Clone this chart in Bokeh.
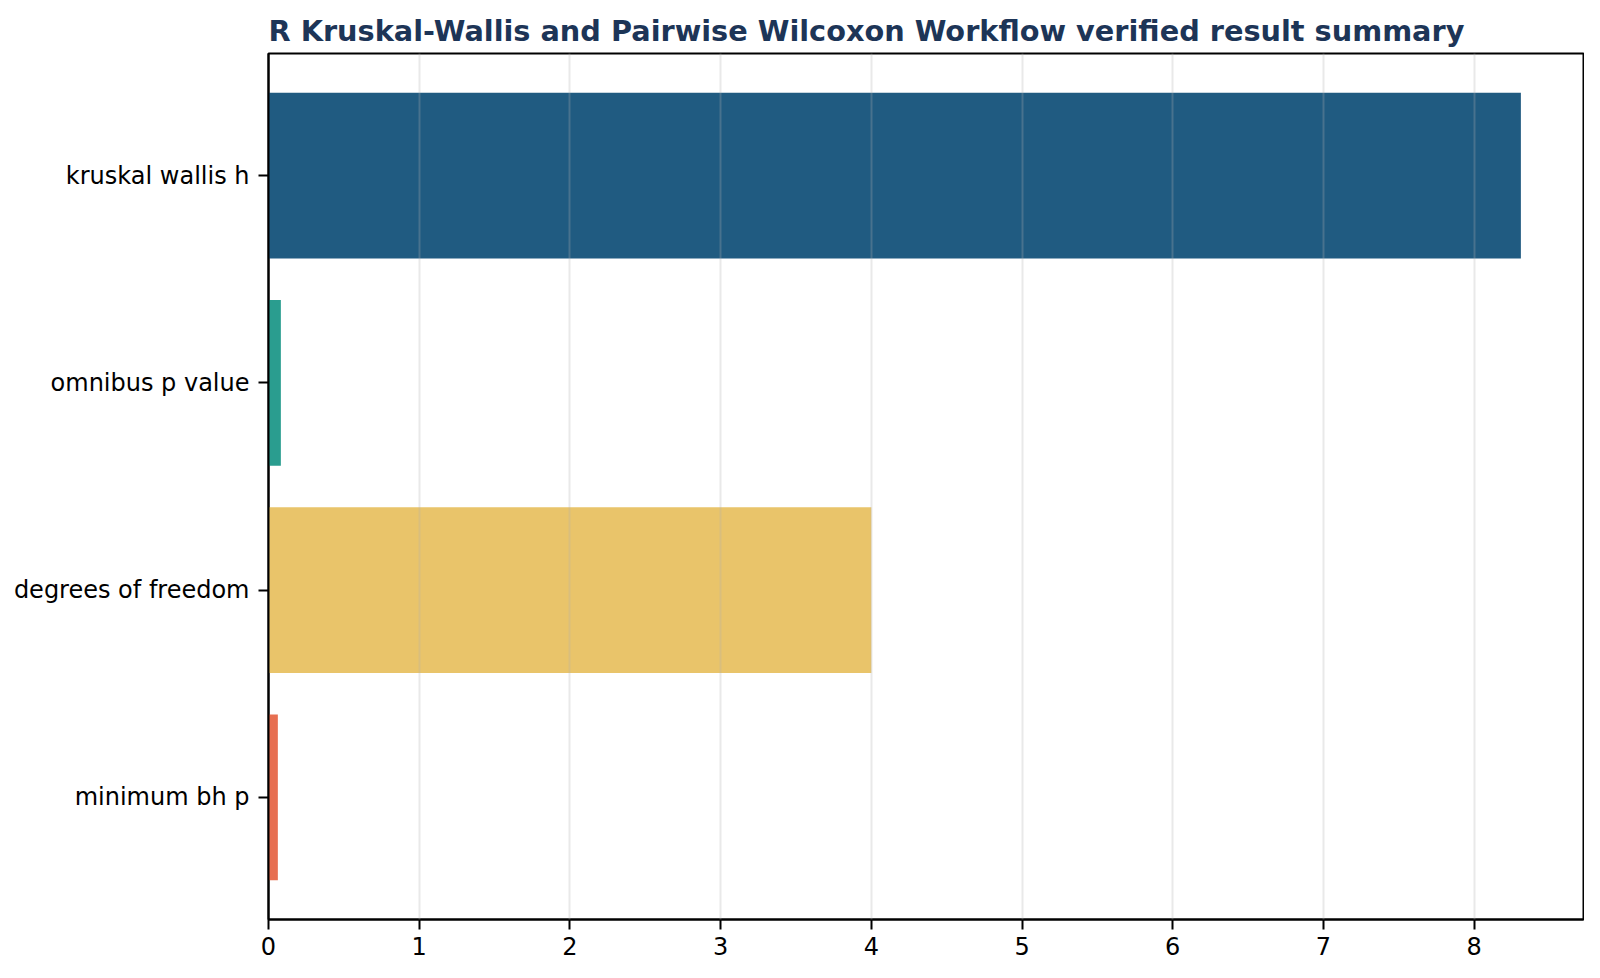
from bokeh.plotting import figure
from bokeh.models import Range1d, FixedTicker, ColumnDataSource
from bokeh.embed import file_html
from bokeh.resources import INLINE

# ---- data ----
metrics = ["kruskal wallis h", "omnibus p value", "degrees of freedom", "minimum bh p"]
values = [8.31, 0.082, 4.0, 0.062]
colors = ["#205b81", "#2a9d8f", "#e9c46a", "#e76f51"]
x_ticks = [0, 1, 2, 3, 4, 5, 6, 7, 8]
title_text = "R Kruskal-Wallis and Pairwise Wilcoxon Workflow verified result summary"

n = len(metrics)
ypos = [n - 1 - i for i in range(n)]
src = ColumnDataSource(dict(y=ypos, v=values, c=colors, name=metrics))

xmax = max(values) * 1.05
p = figure(
    output_backend="svg", toolbar_location=None,
    frame_width=1315, frame_height=866,
    min_border_left=268, min_border_top=53, min_border_right=1, min_border_bottom=42,
    x_range=Range1d(0, xmax), y_range=Range1d(-0.59, n - 1 + 0.59),
    background_fill_color="white", border_fill_color="white",
)
p.hbar(y="y", right="v", left=0, height=0.8, fill_color="c", line_color=None, source=src)

# title
p.title.text = title_text
p.title.text_font = "DejaVu Sans"
p.title.text_font_size = "28.75px"
p.title.text_font_style = "bold"
p.title.text_color = "#1d3557"
p.title.align = "left"
p.title.standoff = 12

# frame
p.outline_line_color = "black"
p.outline_line_width = 2

# grid
p.ygrid.grid_line_color = None
p.xgrid.grid_line_color = "#b0b0b0"
p.xgrid.grid_line_alpha = 0.28
p.xgrid.grid_line_width = 2
p.xgrid.level = "annotation"
p.xgrid.ticker = FixedTicker(ticks=x_ticks)

# axes
p.xaxis.ticker = FixedTicker(ticks=x_ticks)
p.yaxis.ticker = FixedTicker(ticks=ypos)
p.yaxis.major_label_overrides = {yy: m for yy, m in zip(ypos, metrics)}
for ax in (p.xaxis[0], p.yaxis[0]):
    ax.axis_line_color = "black"
    ax.axis_line_width = 2
    ax.major_tick_line_color = "black"
    ax.major_tick_line_width = 2
    ax.major_tick_out = 10
    ax.major_tick_in = 0
    ax.minor_tick_line_color = None
    ax.major_label_text_font = "DejaVu Sans"
    ax.major_label_text_font_size = "24px"
    ax.major_label_text_color = "black"
p.xaxis.major_label_standoff = 7
p.yaxis.major_label_standoff = 9

open("out.html", "w").write(file_html(p, INLINE))
